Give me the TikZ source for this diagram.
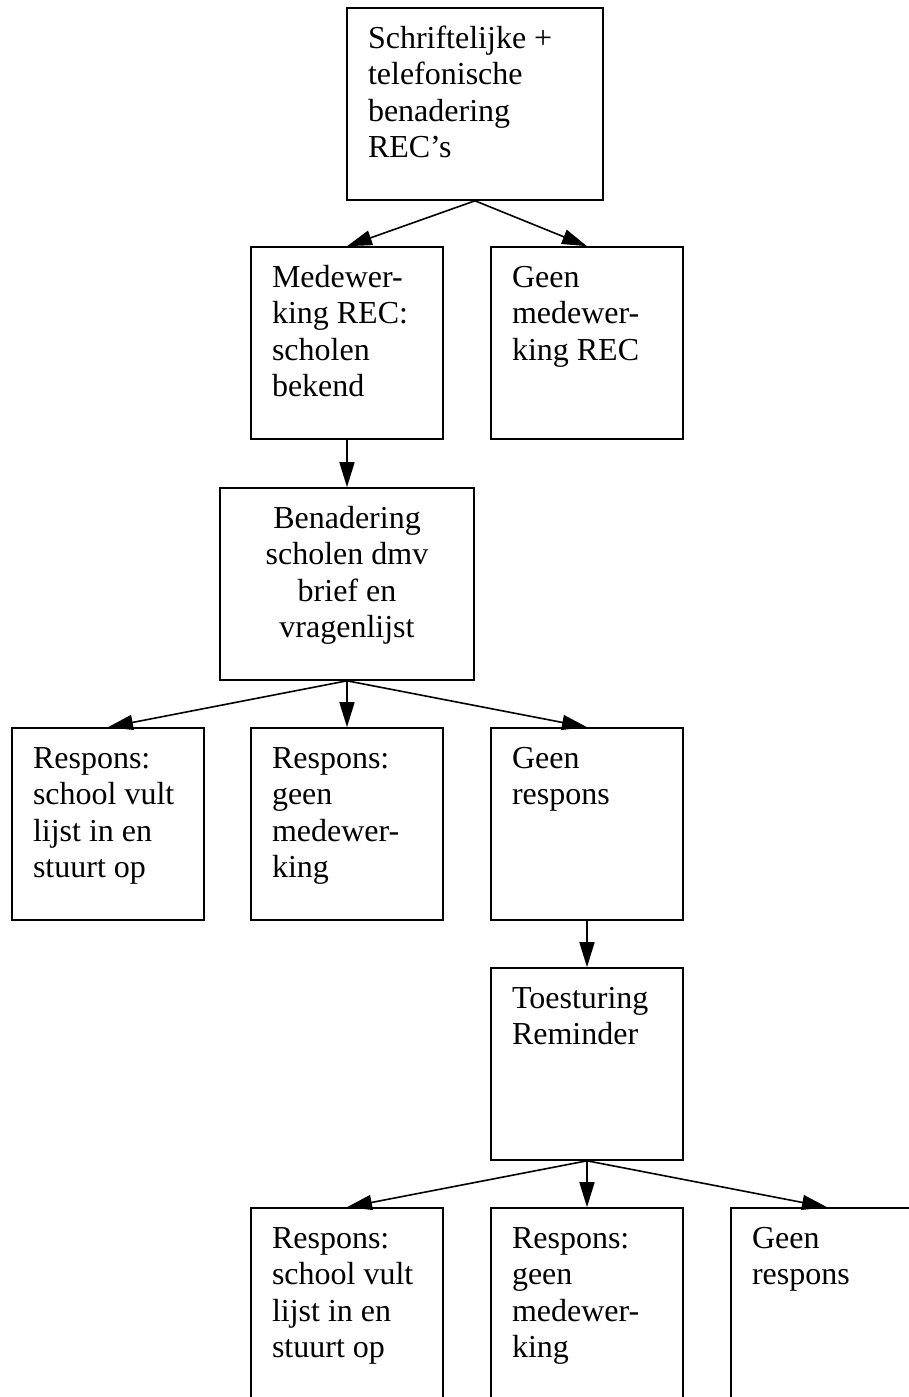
\documentclass[tikz,border=0pt]{standalone}
\usepackage{fontspec}
\setmainfont{Liberation Serif}
\usetikzlibrary{arrows.meta}
\newcommand{\boxtext}[2]{\parbox[c][163pt][t]{#1}{\strut #2}}

\begin{document}
\begin{tikzpicture}[
  x=1pt, y=-1pt,
  every node/.style={font=\fontsize{32}{36.5}\selectfont},
  stap/.style={rectangle, draw, line width=1.6pt, inner xsep=21pt, inner ysep=14.5pt},
  arrow/.style={-{Triangle[length=25pt, width=15pt]}, line width=1.6pt}
]
\useasboundingbox (0,0) rectangle (909,1397);

\node[stap] (rec) at (475, 104) {\boxtext{214pt}{Schriftelijke +\\telefonische\\benadering\\REC's}};

\node[stap] (mede) at (347, 343) {\boxtext{150pt}{Medewer-\\king REC:\\scholen\\bekend}};
\node[stap] (geenmede) at (587, 343) {\boxtext{150pt}{Geen\\medewer-\\king REC}};

\node[stap] (bena) at (347, 584) {\boxtext{212pt}{\centering Benadering\\scholen dmv\\brief en\\vragenlijst}};

\node[stap] (vult) at (108, 824) {\boxtext{150pt}{Respons:\\school vult\\lijst in en\\stuurt op}};
\node[stap] (weiger) at (347, 824) {\boxtext{150pt}{Respons:\\geen\\medewer-\\king}};
\node[stap] (geenresp) at (587, 824) {\boxtext{150pt}{Geen\\respons}};

\node[stap] (remind) at (587, 1064) {\boxtext{150pt}{Toesturing\\Reminder}};

\node[stap] (vult2) at (347, 1304) {\boxtext{150pt}{Respons:\\school vult\\lijst in en\\stuurt op}};
\node[stap] (weiger2) at (587, 1304) {\boxtext{150pt}{Respons:\\geen\\medewer-\\king}};
\node[stap] (geenresp2) at (827, 1304) {\boxtext{150pt}{Geen\\respons}};

\draw[arrow] (rec.south) -- (mede.north);
\draw[arrow] (rec.south) -- (geenmede.north);
\draw[arrow] (mede.south) -- (bena.north);
\draw[arrow] (bena.south) -- (vult.north);
\draw[arrow] (bena.south) -- (weiger.north);
\draw[arrow] (bena.south) -- (geenresp.north);
\draw[arrow] (geenresp.south) -- (remind.north);
\draw[arrow] (remind.south) -- (vult2.north);
\draw[arrow] (remind.south) -- (weiger2.north);
\draw[arrow] (remind.south) -- (geenresp2.north);
\end{tikzpicture}
\end{document}
